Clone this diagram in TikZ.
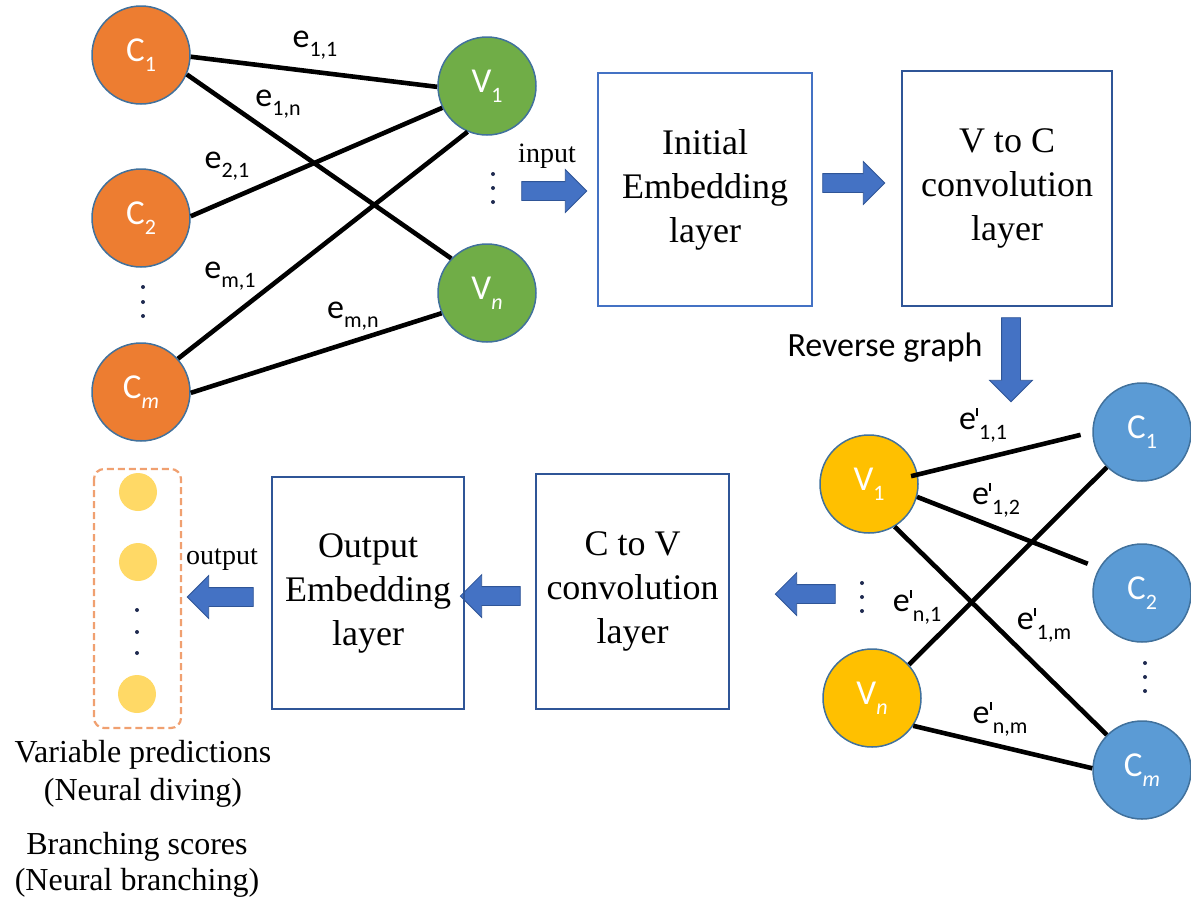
\documentclass[tikz,border=0pt]{standalone}
\usepackage{fontspec}
\setmainfont{Liberation Serif}
\newfontfamily\calib{Carlito}
\usetikzlibrary{shapes.arrows}
\definecolor{orangeC}{HTML}{ED7D31}
\definecolor{greenC}{HTML}{70AD47}
\definecolor{yellowC}{HTML}{FFC000}
\definecolor{blueC}{HTML}{5B9BD5}
\definecolor{circB}{HTML}{41719C}
\definecolor{boxL}{HTML}{4472C4}
\definecolor{boxD}{HTML}{2F5597}
\definecolor{arrF}{HTML}{4472C4}
\definecolor{arrD}{HTML}{2F5597}
\definecolor{dotY}{HTML}{FFD966}
\definecolor{dashO}{HTML}{F0A070}
\definecolor{dotC}{HTML}{1F2A50}
\newcommand\sbs[1]{\raisebox{-0.28em}{\fontsize{22}{22}\selectfont #1}}
\newcommand\ee[1]{e\sbs{#1}}
\newcommand\ep[1]{e\raisebox{0.42em}{\rule{2.2pt}{8pt}}\hspace{1pt}\sbs{#1}}
\begin{document}
\begin{tikzpicture}[x=1pt,y=-1pt,
  lbl/.style={font=\calib\fontsize{34}{34}\selectfont, inner sep=0},
  cnode/.style={circle, minimum size=98pt, inner sep=0, draw=circB, line width=1.5pt, text=white, font=\calib\fontsize{35}{35}\selectfont},
  layerbox/.style={draw=boxD, line width=2.5pt, align=center, font=\fontsize{36}{44}\selectfont, inner sep=0},
  barrow/.style={single arrow, fill=arrF, draw=arrD, line width=0.8pt, inner xsep=0pt, inner ysep=9pt, single arrow head extend=12pt, single arrow head indent=0pt, minimum width=42pt},
  vbarrow/.style={barrow, inner xsep=9pt, inner ysep=0pt, shape border rotate=270},
  edge/.style={line width=4.6pt, black},
  smalltxt/.style={font=\fontsize{28}{28}\selectfont, inner sep=0},
  captxt/.style={font=\fontsize{32}{38}\selectfont, align=center, inner sep=0},
  ydot/.style={circle, fill=dotY, minimum size=38pt, inner sep=0}
]
\useasboundingbox (0,0) rectangle (1191,900);

% ---------- top-left bipartite graph ----------
\node[cnode, fill=orangeC] (C1) at (141,55) {C\sbs{1}};
\node[cnode, fill=orangeC] (C2) at (141,218) {C\sbs{2}};
\node[cnode, fill=orangeC] (Cm) at (141,392) {C\sbs{\itshape m}};
\node[cnode, fill=greenC] (V1) at (487,86) {V\sbs{1}};
\node[cnode, fill=greenC] (Vn) at (487,293) {V\sbs{\itshape n}};

\draw[edge] (C1.358) -- (V1.181);
\draw[edge] (C1.337) -- (Vn.136);
\draw[edge] (C2.2) -- (V1.206);
\draw[edge] (Cm.42) -- (V1.247);
\draw[edge] (Cm.359) -- (Vn.204);

\node[lbl] (l11) at (315,45) {\ee{1,1}};
\node[lbl] (l1n) at (278,104) {\ee{1,n}};
\node[lbl] (l21) at (227,166) {\ee{2,1}};
\node[lbl] (lm1) at (230,276) {\ee{m,1}};
\node[lbl] (lmn) at (353,316) {\ee{m,n}};

\foreach \y in {287,302,316} \fill[dotC] (143,\y) circle (2);
\foreach \y in {174,188,202} \fill[dotC] (493,\y) circle (2);

% ---------- top row of layers ----------
\node[barrow, minimum height=65pt] (a1) at (549.5,191) {};
\node[smalltxt] (tin) at (547,156) {input};
\node[layerbox, draw=boxL, minimum width=214pt, minimum height=233pt] (emb) at (705,189.5) {Initial\\Embedding\\layer};
\node[barrow, minimum height=62pt] (a2) at (849,183) {};
\node[layerbox, minimum width=210pt, minimum height=235pt] (vtoc) at (1007,188.5) {V to C\\convolution\\layer};
\node[vbarrow, minimum height=84pt] (a3) at (1011,355) {};
\node[lbl] (rev) at (885,348) {Reverse graph};

% ---------- bottom-right reversed graph ----------
\node[cnode, fill=yellowC] (W1) at (869,484) {V\sbs{1}};
\node[cnode, fill=yellowC] (Wn) at (872,698) {V\sbs{\itshape n}};
\node[cnode, fill=blueC] (D1) at (1142,432) {C\sbs{1}};
\node[cnode, fill=blueC] (D2) at (1142,593) {C\sbs{2}};
\node[cnode, fill=blueC] (Dm) at (1142,770) {C\sbs{\itshape m}};

\draw[edge, shorten <=-7pt, shorten >=12pt] (W1.11) -- (D1.180);
\draw[edge, shorten >=12pt] (W1.345) -- (D2.150);
\draw[edge] (W1.301) -- (Dm.135);
\draw[edge] (Wn.42) -- (D1.225);
\draw[edge] (Wn.326) -- (Dm.178);

\node[lbl] (m11) at (983,425) {\ep{1,1}};
\node[lbl] (m12) at (996,500) {\ep{1,2}};
\node[lbl] (mn1) at (917,607) {\ep{n,1}};
\node[lbl] (m1m) at (1044,625) {\ep{1,m}};
\node[lbl] (mnm) at (1000,719) {\ep{n,m}};

\foreach \y in {663,677,691} \fill[dotC] (1145,\y) circle (2);
\foreach \y in {583,597,611} \fill[dotC] (862,\y) circle (2);

% ---------- bottom row of layers ----------
\node[barrow, minimum height=60pt, shape border rotate=180] (a4) at (810,594) {};
\node[layerbox, minimum width=193pt, minimum height=235pt] (ctov) at (632.5,591.5) {C to V\\convolution\\layer};
\node[barrow, minimum height=60pt, shape border rotate=180] (a5) at (495,596) {};
\node[layerbox, minimum width=192pt, minimum height=232pt] (outemb) at (368,593) {Output\\Embedding\\layer};
\node[barrow, minimum height=66pt, shape border rotate=180] (a6) at (225,597) {};
\node[smalltxt] (tout) at (222,560) {output};

% ---------- output column ----------
\draw[dashO, line width=2.2pt, dash pattern=on 7pt off 4pt, rounded corners=10pt] (94,469) rectangle (181,728);
\node[ydot] (y1) at (138,492) {};
\node[ydot] (y2) at (138,562) {};
\node[ydot] (y3) at (137,694) {};
\foreach \y in {610,632,653} \fill[dotC] (137,\y) circle (2);

\node[captxt] (cap1) at (143,774) {Variable predictions\\(Neural diving)};
\node[captxt, font=\fontsize{32}{36}\selectfont] (cap2) at (137,865) {Branching scores\\(Neural branching)};
\end{tikzpicture}
\end{document}
